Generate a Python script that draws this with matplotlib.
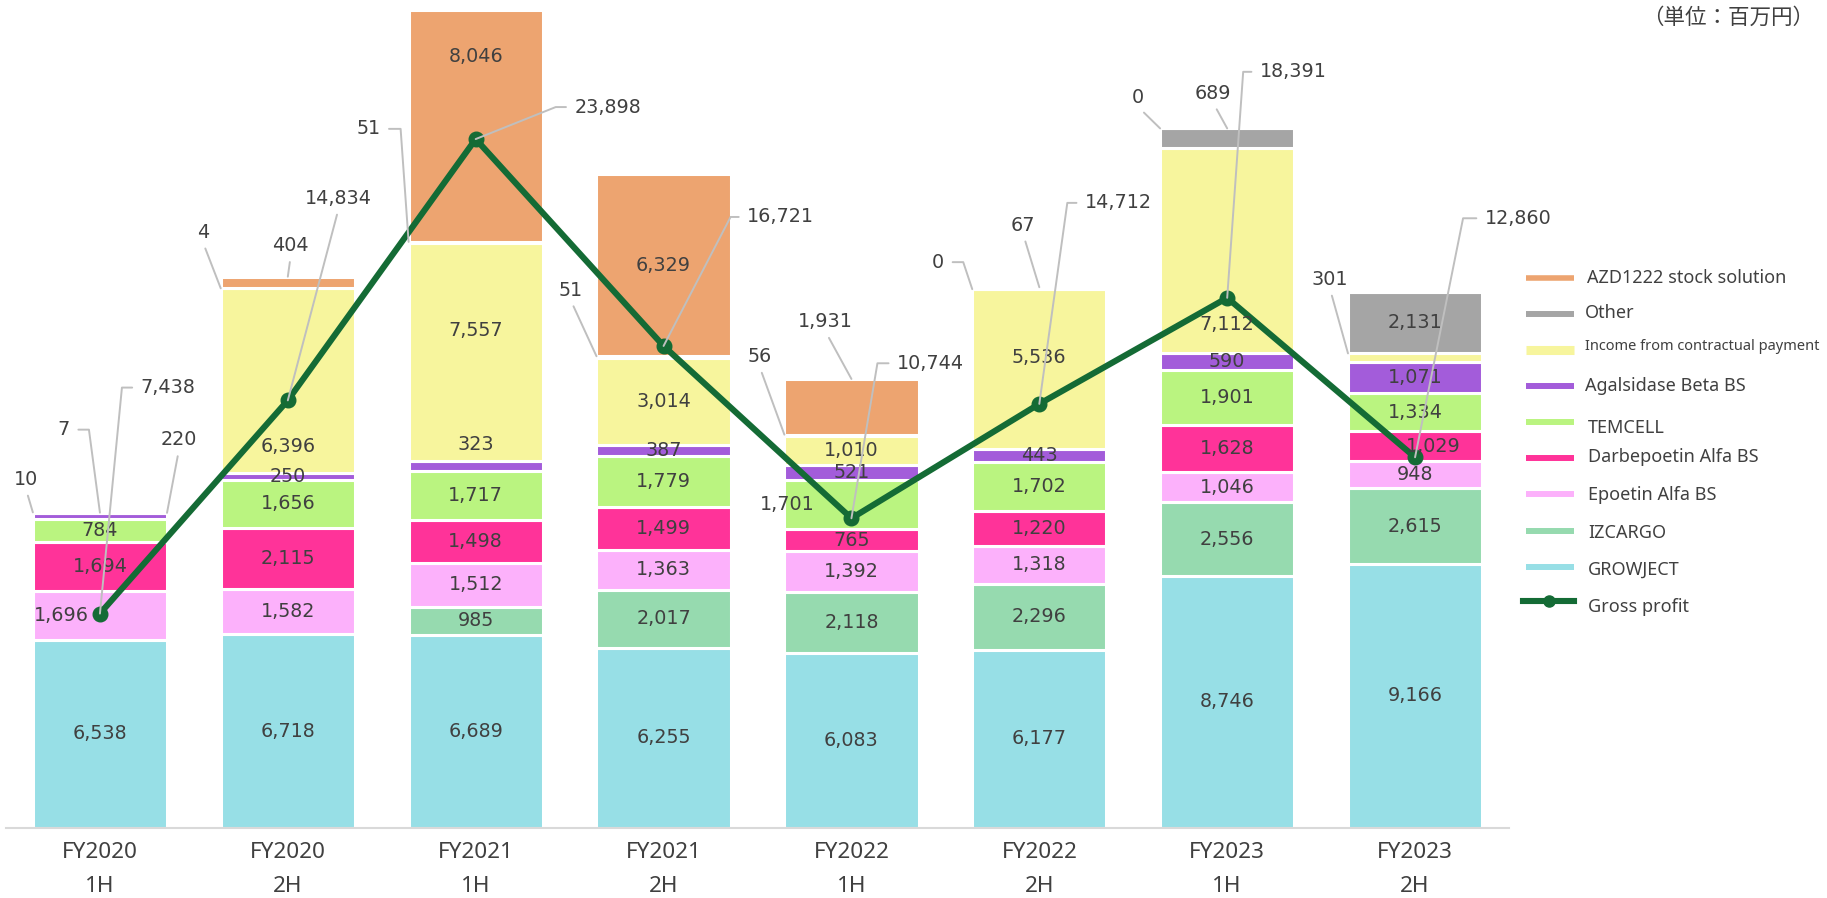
import numpy as np
import matplotlib.pyplot as plt
from matplotlib.lines import Line2D

# period labels (x axis)
periods = ["FY2020\n1H", "FY2020\n2H", "FY2021\n1H", "FY2021\n2H",
           "FY2022\n1H", "FY2022\n2H", "FY2023\n1H", "FY2023\n2H"]

# sales by product, million yen (stack order bottom -> top)
growject = [6538, 6718, 6689, 6255, 6083, 6177, 8746, 9166]
izcargo = [0, 0, 985, 2017, 2118, 2296, 2556, 2615]
epoetin = [1696, 1582, 1512, 1363, 1392, 1318, 1046, 948]
darbepoetin = [1694, 2115, 1498, 1499, 765, 1220, 1628, 1029]
temcell = [784, 1656, 1717, 1779, 1701, 1702, 1901, 1334]
agalsidase = [220, 250, 323, 387, 521, 443, 590, 1071]
contract_income = [7, 6396, 7557, 3014, 1010, 5536, 7112, 301]
other = [10, 4, 51, 51, 56, 0, 689, 2131]
azd1222 = [0, 404, 8046, 6329, 1931, 67, 0, 0]
gross_profit = [7438, 14834, 23898, 16721, 10744, 14712, 18391, 12860]

series = [
    ("GROWJECT", growject, "#97DFE6"),
    ("IZCARGO", izcargo, "#96DAAF"),
    ("Epoetin Alfa BS", epoetin, "#FCB1FB"),
    ("Darbepoetin Alfa BS", darbepoetin, "#FF3399"),
    ("TEMCELL", temcell, "#BAF480"),
    ("Agalsidase Beta BS", agalsidase, "#A35CDA"),
    ("Income from contractual payment", contract_income, "#F7F59D"),
    ("Other", other, "#A5A5A5"),
    ("AZD1222 stock solution", azd1222, "#EDA470"),
]
GP_COLOR = "#146B35"
TXT = "#404040"
LEAD = "#BFBFBF"

# small segments labelled outside: (series, bar) -> (anchor side, dx, dy, elbow corner) in pixels
callouts = {
    ("Other", 0): ("l", -7, 33, None),
    ("Income from contractual payment", 0): ("c", -36, 83, (-11, 83)),
    ("Agalsidase Beta BS", 0): ("r", 12, 73, None),
    ("Other", 1): ("l", -18, 56, None),
    ("AZD1222 stock solution", 1): ("c", 3, 31, None),
    ("Other", 2): ("l", -40, 113, (-8, 113)),
    ("Other", 3): ("l", -26, 66, None),
    ("Other", 4): ("l", -25, 78, None),
    ("AZD1222 stock solution", 4): ("c", -26, 57, None),
    ("Other", 5): ("l", -34, 27, (-9, 27)),
    ("AZD1222 stock solution", 5): ("c", -16, 62, None),
    ("AZD1222 stock solution", 6): ("l", -22, 31, None),
    ("Other", 6): ("c", -14, 35, None),
    ("Income from contractual payment", 7): ("l", -18, 74, None),
}
gp_callouts = [(68, 226, (22, 226)), (51, 202, None), (132, 32, (80, 32)),
               (117, 129, (67, 129)), (79, 155, (26, 155)), (79, 201, (28, 201)),
               (66, 226, (16, 226)), (103, 239, (48, 239))]
# inside labels nudged away from the line
inside_shift = {
    ("Epoetin Alfa BS", 0): (-39, 0),
    ("Income from contractual payment", 1): (0, -66),
    ("Agalsidase Beta BS", 2): (0, 21),
    ("Income from contractual payment", 2): (0, 22),
    ("AZD1222 stock solution", 2): (0, 69),
    ("TEMCELL", 4): (-64, 0),
    ("Income from contractual payment", 5): (0, 11),
    ("Income from contractual payment", 6): (0, -74),
    ("Darbepoetin Alfa BS", 7): (18, 0),
}

W, H = 1827, 898
fig = plt.figure(figsize=(W / 100, H / 100), dpi=100)
ax = fig.add_axes([6 / W, 70 / H, (1509 - 6) / W, 828 / H])

x = np.arange(len(periods))
bw = 0.714
bottom = np.zeros(len(periods))
tops = {}
for name, vals, col in series:
    vals = np.array(vals, dtype=float)
    ax.bar(x, vals, bw, bottom=bottom, color=col, edgecolor="white", linewidth=2.2, zorder=2)
    tops[name] = (bottom.copy(), bottom + vals)
    bottom = bottom + vals

ax.plot(x, gross_profit, color=GP_COLOR, lw=4.4, marker="o", ms=10.5, zorder=4)

LABEL_FS = 13.8


def leader(text, xy, dx, dy, corner):
    if corner is None:
        props = dict(arrowstyle="-", color=LEAD, lw=1.4, shrinkA=3, shrinkB=0,
                     relpos=(0.5, 0))
    else:
        ang = np.degrees(np.arctan2(corner[1], corner[0]))
        rel = (0, 0.5) if corner[0] < dx else (1, 0.5)
        props = dict(arrowstyle="-", color=LEAD, lw=1.4, shrinkA=4, shrinkB=0, relpos=rel,
                     connectionstyle=f"angle,angleA=0,angleB={ang:.2f},rad=0")
    ax.annotate(text, xy, xytext=(dx, dy), textcoords="offset pixels", ha="center",
                va="center", fontsize=LABEL_FS, color=TXT, arrowprops=props,
                annotation_clip=False, zorder=6)


for name, vals, col in series:
    lo, hi = tops[name]
    for i, v in enumerate(vals):
        key = (name, i)
        if key in callouts:
            side, dx, dy, corner = callouts[key]
            xa = x[i] + {"l": -bw / 2, "c": 0, "r": bw / 2}[side]
            leader(f"{v:,}", (xa, hi[i]), dx, dy, corner)
        elif v > 0:
            sx, sy = inside_shift.get(key, (0, 0))
            ax.annotate(f"{v:,}", (x[i], (lo[i] + hi[i]) / 2), xytext=(sx, sy),
                        textcoords="offset pixels", ha="center", va="center",
                        fontsize=LABEL_FS, color=TXT, zorder=5)

for i, gp in enumerate(gross_profit):
    dx, dy, corner = gp_callouts[i]
    leader(f"{gp:,}", (x[i], gp), dx, dy, corner)

ax.set_xlim(-0.5, len(periods) - 0.5)
ax.set_ylim(0, 28722)
ax.set_yticks([])
for s in ["top", "right", "left"]:
    ax.spines[s].set_visible(False)
ax.spines["bottom"].set_color("#D9D9D9")
ax.spines["bottom"].set_linewidth(1.5)
ax.spines["bottom"].set_zorder(3)
ax.set_xticks(x)
ax.set_xticklabels(periods, fontsize=16.2, color=TXT, family="Noto Sans", linespacing=1.8)
ax.tick_params(axis="x", length=0, pad=10)

# legend drawn by hand (entries have uneven spacing and sizes)
legend_rows = [
    ("AZD1222 stock solution", "#EDA470", 278, 278, 13, 4.0, 1587),
    ("Other", "#A5A5A5", 314, 313, 13, 4.3, 1585),
    ("Income from contractual payment", "#F7F59D", 350, 347, 10.5, 6.5, 1585),
    ("Agalsidase Beta BS", "#A35CDA", 386, 386, 13, 4.3, 1585),
    ("TEMCELL", "#BAF480", 422, 428, 13, 4.3, 1588),
    ("Darbepoetin Alfa BS", "#FF3399", 458, 457, 13, 4.3, 1588),
    ("Epoetin Alfa BS", "#FCB1FB", 494, 495, 13, 4.3, 1588),
    ("IZCARGO", "#96DAAF", 531, 533, 13, 4.3, 1588),
    ("GROWJECT", "#97DFE6", 567, 570, 13, 4.3, 1588),
]
for label, col, yh, yt, fs, lw, xt in legend_rows:
    fig.add_artist(Line2D([1526 / W, 1574 / W], [1 - yh / H, 1 - yh / H], color=col,
                          lw=lw, transform=fig.transFigure, solid_capstyle="butt"))
    fig.text(xt / W, 1 - yt / H, label, fontsize=fs, color=TXT, family="Noto Sans",
             va="center", ha="left")
fig.add_artist(Line2D([1523 / W, 1574 / W], [1 - 601 / H, 1 - 601 / H], color=GP_COLOR,
                      lw=4.4, transform=fig.transFigure))
fig.add_artist(Line2D([1549 / W], [1 - 601 / H], color=GP_COLOR, marker="o", ms=8,
                      transform=fig.transFigure))
fig.text(1588 / W, 1 - 607 / H, "Gross profit", fontsize=13, color=TXT, family="Noto Sans",
         va="center", ha="left")

fig.text(1814 / W, 1 - 18 / H, "（単位：百万円）", fontsize=15.5, color=TXT,
         family=["Noto Sans CJK JP", "DejaVu Sans"], ha="right", va="center")

fig.savefig("out.png", dpi=100)
